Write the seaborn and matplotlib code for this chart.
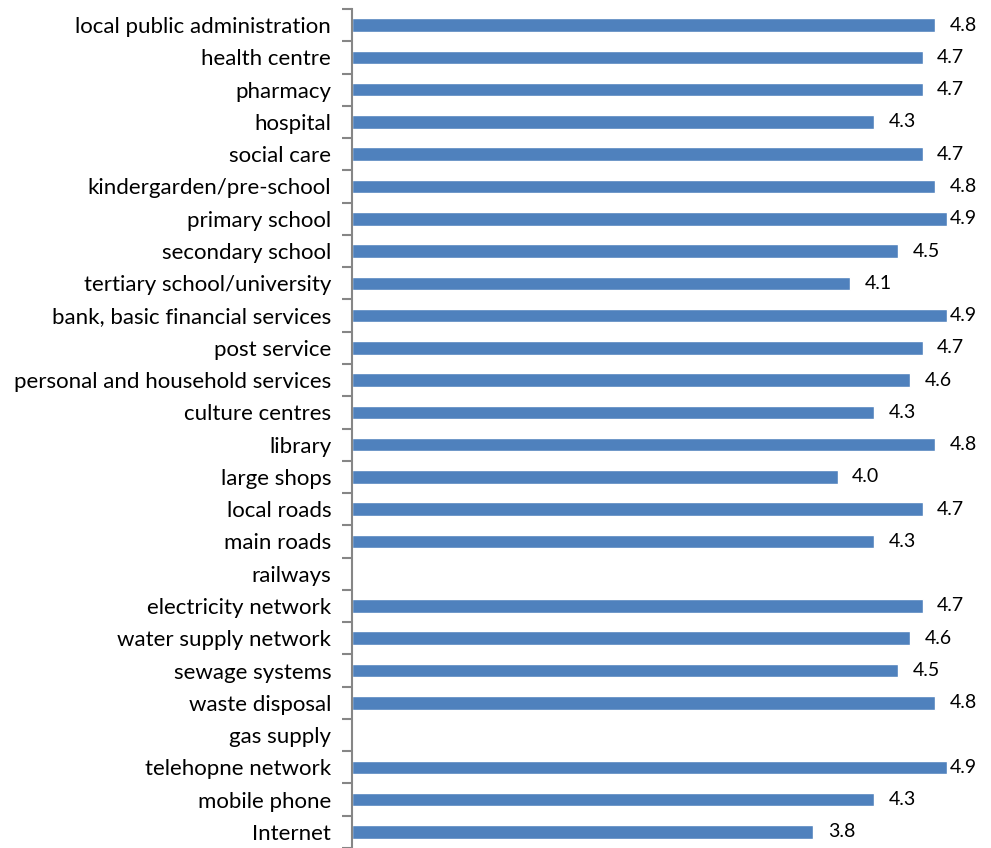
import numpy as np
import pandas as pd
import matplotlib
matplotlib.use("Agg")
import matplotlib.pyplot as plt
import seaborn as sns

categories = [
    "local public administration", "health centre", "pharmacy", "hospital",
    "social care", "kindergarden/pre-school", "primary school", "secondary school",
    "tertiary school/university", "bank, basic financial services", "post service",
    "personal and household services", "culture centres", "library", "large shops",
    "local roads", "main roads", "railways", "electricity network",
    "water supply network", "sewage systems", "waste disposal", "gas supply",
    "telehopne network", "mobile phone", "Internet",
]
values = [
    4.8, 4.7, 4.7, 4.3, 4.7, 4.8, 4.9, 4.5, 4.1, 4.9, 4.7, 4.6, 4.3, 4.8, 4.0,
    4.7, 4.3, np.nan, 4.7, 4.6, 4.5, 4.8, np.nan, 4.9, 4.3, 3.8,
]

df = pd.DataFrame({"service": categories, "score": values})

sns.set_style("white")
plt.rcParams["font.family"] = ["Lato", "DejaVu Sans"]

fig = plt.figure(figsize=(9.91, 8.48), dpi=100)
ax = fig.add_axes([352 / 991, 0.0, 607 / 991, 839 / 848])

sns.barplot(data=df, x="score", y="service", order=categories, orient="h",
            color="#4F81BD", saturation=1, width=0.42, ax=ax)

ax.set_xlim(0, 5.0)
ax.set_ylim(len(categories) - 0.5, -0.5)
ax.set_xlabel("")
ax.set_ylabel("")
ax.set_xticks([])

for side in ["top", "right", "bottom"]:
    ax.spines[side].set_visible(False)
ax.spines["left"].set_color("#868686")
ax.spines["left"].set_linewidth(1.5)

# category labels without ticks; short ticks between categories
ax.set_yticks(np.arange(len(categories) + 1) - 0.5, minor=True)
ax.tick_params(axis="y", which="both", left=True)
ax.tick_params(axis="y", which="major", length=0, pad=15, labelsize=16,
               labelcolor="#000000")
ax.tick_params(axis="y", which="minor", length=7, width=1.5, color="#868686",
               direction="out")

# value labels beside the bars
for i, v in enumerate(values):
    if np.isnan(v):
        continue
    x = min(v + 0.12, 4.92)
    ax.text(x, i, f"{v:.1f}", va="center", ha="left", fontsize=14, color="#000000")

fig.savefig("out.png", dpi=100)
